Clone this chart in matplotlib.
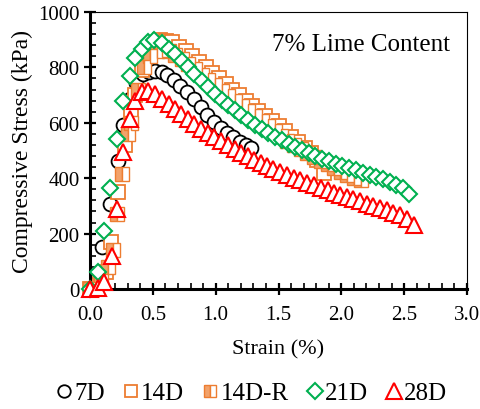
import matplotlib
matplotlib.use("Agg")
import matplotlib.pyplot as plt
from matplotlib.ticker import MultipleLocator
from matplotlib.lines import Line2D

plt.rcParams['font.family'] = ['Liberation Serif', 'DejaVu Serif']

# ---- data ----
s7 = [0.00, 0.095, 0.16, 0.22, 0.265, 0.32, 0.37, 0.42, 0.47, 0.52, 0.57, 0.615, 0.665, 0.72,
      0.775, 0.83, 0.88, 0.93, 0.985, 1.04, 1.09, 1.14, 1.19, 1.24, 1.285]
v7 = [0, 150, 307, 462, 592, 686, 745, 775, 785, 787, 782, 772, 754, 733,
      711, 686, 657, 628, 604, 582, 563, 547, 532, 519, 508]

s14 = [0.0, 0.08, 0.13, 0.17, 0.225, 0.28, 0.33, 0.36, 0.41, 0.46, 0.51, 0.56, 0.605, 0.655,
       0.705, 0.76, 0.81, 0.865, 0.92, 0.97, 1.025, 1.08, 1.13, 1.185, 1.24, 1.29, 1.34,
       1.395, 1.445, 1.5, 1.55, 1.60, 1.655, 1.71, 1.76, 1.81, 1.86]
v14 = [0, 20, 61, 170, 350, 520, 640, 700, 790, 855, 885, 898, 897, 890,
       875, 858, 840, 820, 800, 780, 760, 740, 720, 700, 680, 661, 643,
       625, 607, 589, 570, 550, 530, 510, 490, 465, 420]

s14r = [0.0, 0.09, 0.14, 0.18, 0.215, 0.255, 0.30, 0.33, 0.38, 0.43, 0.48, 0.53, 0.575, 0.625,
        0.675, 0.73, 0.78, 0.835, 0.89, 0.94, 0.995, 1.05, 1.10, 1.155, 1.21, 1.26, 1.31,
        1.365, 1.415, 1.47, 1.52, 1.57, 1.625, 1.68, 1.73, 1.785, 1.84, 1.89, 1.945, 2.0,
        2.045, 2.10, 2.155]
v14r = [0, 30, 80, 140, 271, 415, 560, 600, 720, 800, 840, 860, 862, 858,
        845, 830, 812, 793, 774, 755, 735, 716, 697, 678, 660, 642, 624,
        606, 588, 570, 553, 536, 520, 505, 490, 476, 463, 450, 437, 424,
        412, 402, 395]

s21 = [0.0, 0.06, 0.11, 0.16, 0.215, 0.265, 0.32, 0.36, 0.415, 0.465, 0.51, 0.57, 0.625, 0.675,
       0.73, 0.78, 0.83, 0.89, 0.94, 0.995, 1.05, 1.10, 1.155, 1.205, 1.26, 1.315, 1.37,
       1.42, 1.47, 1.525, 1.58, 1.635, 1.69, 1.74, 1.79, 1.845, 1.90, 1.955, 2.005, 2.06,
       2.115, 2.17, 2.225, 2.275, 2.33, 2.385, 2.435, 2.49, 2.535]
v21 = [0, 61, 209, 365, 540, 679, 769, 834, 866, 892, 899, 888, 866, 848,
       823, 801, 776, 751, 729, 705, 684, 664, 645, 627, 609, 593, 578,
       563, 550, 537, 525, 513, 502, 491, 481, 471, 461, 452, 444, 436,
       428, 420, 412, 404, 396, 387, 377, 364, 342]

s28 = [0.0, 0.06, 0.11, 0.175, 0.215, 0.265, 0.32, 0.36, 0.415, 0.465, 0.52, 0.575, 0.625, 0.675,
       0.725, 0.78, 0.83, 0.885, 0.94, 0.99, 1.045, 1.10, 1.15, 1.20, 1.255, 1.305, 1.36,
       1.41, 1.46, 1.515, 1.57, 1.62, 1.675, 1.73, 1.78, 1.835, 1.89, 1.94, 1.99, 2.045,
       2.095, 2.15, 2.205, 2.255, 2.31, 2.365, 2.415, 2.47, 2.525, 2.575]
v28 = [0, 5, 25, 119, 289, 494, 614, 679, 711, 715, 704, 686, 668, 650,
       630, 612, 595, 578, 562, 547, 533, 519, 505, 492, 480, 467, 455,
       444, 433, 422, 412, 402, 392, 383, 374, 365, 356, 348, 340, 332,
       324, 316, 308, 300, 292, 284, 276, 266, 252, 232]

labels = ['7D', '14D', '14D-R', '21D', '28D']
ORANGE = '#ED7D31'
ORANGE_FILL = '#F2A26A'
GREEN = '#00B050'
RED = '#FF0000'

fig = plt.figure(figsize=(4.8, 4.1), dpi=100)
ax = fig.add_axes([90/480, 1-290/410, (467-90)/480, (290-13)/410])

ax.plot(s7, v7, ls='none', marker='o', ms=10, mfc='white', mec='black', mew=1.3, zorder=3, clip_on=False)
ax.plot(s14, v14, ls='none', marker='s', ms=9.5, mfc='white', mec=ORANGE, mew=1.3, zorder=4, clip_on=False)
ax.plot(s14r, v14r, ls='none', marker='s', ms=9.5, mfc=ORANGE_FILL, mfcalt='white', fillstyle='left',
        mec=ORANGE, mew=1.0, zorder=5, clip_on=False)
ax.plot(s21, v21, ls='none', marker='D', ms=8.5, mfc='white', mec=GREEN, mew=1.5, zorder=6, clip_on=False)
ax.plot(s28, v28, ls='none', marker='^', ms=11, mfc='white', mec=RED, mew=1.5, zorder=7, clip_on=False)

ax.set_xlim(0, 3.0)
ax.set_ylim(0, 1000)
ax.xaxis.set_major_locator(MultipleLocator(0.5))
ax.xaxis.set_minor_locator(MultipleLocator(0.1))
ax.yaxis.set_major_locator(MultipleLocator(200))
ax.yaxis.set_minor_locator(MultipleLocator(40))
ax.xaxis.set_major_formatter(plt.FuncFormatter(lambda v, p: f'{v:.1f}'))

ax.spines['left'].set_linewidth(2.2)
ax.spines['bottom'].set_linewidth(2.2)
ax.spines['top'].set_linewidth(0.8)
ax.spines['right'].set_linewidth(0.8)
ax.tick_params(which='major', direction='inout', length=9, width=1.6, labelsize=15,
               top=False, right=False)
ax.tick_params(axis='x', which='major', pad=7)
ax.tick_params(axis='y', which='major', pad=3)
ax.tick_params(which='minor', direction='in', length=4, width=1.2, top=False, right=False)

ax.set_xlabel('Strain (%)', fontsize=16, labelpad=11)
ax.set_ylabel('Compressive Stress (kPa)', fontsize=17, labelpad=4)

ax.text(0.955, 0.884, '7% Lime Content', transform=ax.transAxes, ha='right', va='center', fontsize=18)

handles = [
    Line2D([], [], ls='none', marker='o', ms=9, mfc='white', mec='black', mew=1.3),
    Line2D([], [], ls='none', marker='s', ms=9, mfc='white', mec=ORANGE, mew=1.3),
    Line2D([], [], ls='none', marker='s', ms=9, mfc=ORANGE_FILL, mfcalt='white', fillstyle='left', mec=ORANGE, mew=1.0),
    Line2D([], [], ls='none', marker='D', ms=8, mfc='white', mec=GREEN, mew=1.5),
    Line2D([], [], ls='none', marker='^', ms=11, mfc='white', mec=RED, mew=1.5),
]
fig.legend(handles, labels, loc='center', bbox_to_anchor=(0.525, 1-394/410), ncol=5, frameon=False,
           fontsize=18, handlelength=0.6, handletextpad=0.1, columnspacing=0.75)

fig.savefig('out.png', dpi=100)
